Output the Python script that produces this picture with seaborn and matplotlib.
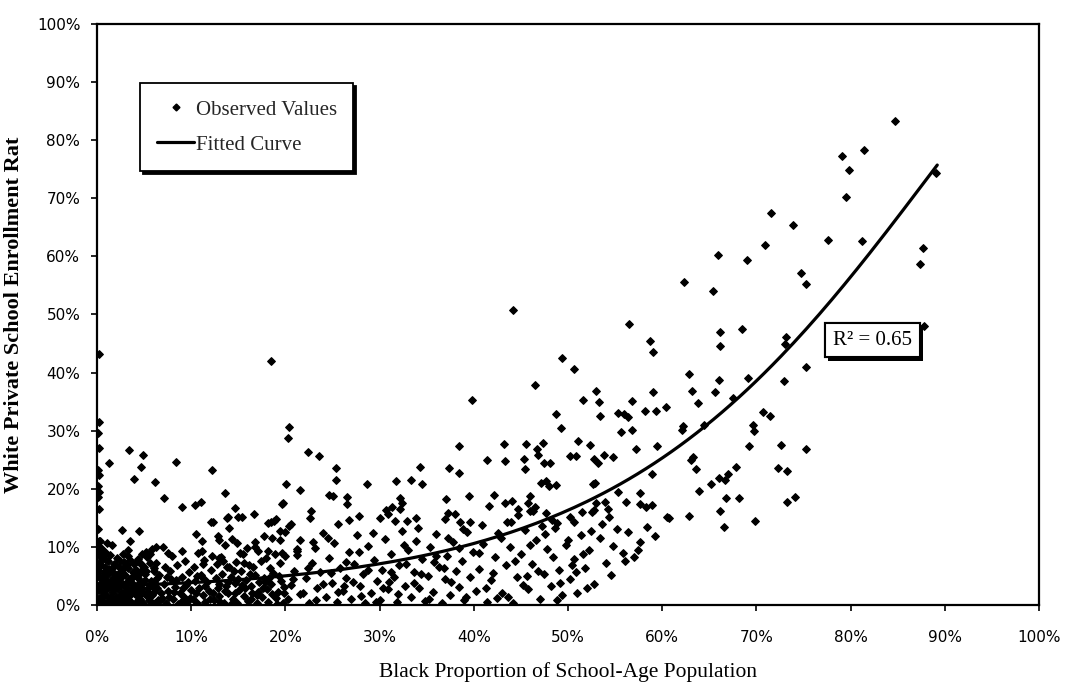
import matplotlib
matplotlib.use("Agg")
import matplotlib.pyplot as plt
import matplotlib.patheffects as pe
import numpy as np
import pandas as pd
import seaborn as sns
from matplotlib.ticker import PercentFormatter, MultipleLocator
from matplotlib.lines import Line2D

# ---------------- data: (black share %, white private enrolment %) ----------------
axis_pts = [(0.2, 43.2), (0.2, 31.5), (0.1, 29.6), (0.2, 27.0), (0.1, 23.2), (0.2, 22.4), (0.1, 20.4),
            (0.2, 19.5), (0.1, 18.6), (0.2, 16.5), (0.1, 13.0), (0.2, 11.0), (0.1, 10.0), (0.2, 9.0)]

upper_0_20 = [(1.3, 24.5), (3.4, 26.7), (4.85, 25.8), (4.7, 23.7), (3.9, 21.7), (6.2, 21.2), (7.1, 18.5),
              (8.4, 24.6), (9.0, 16.8), (10.4, 17.2), (11.0, 17.7), (12.2, 23.2), (13.6, 19.3), (14.7, 16.7),
              (13.9, 15.1), (15.0, 15.1), (15.4, 15.1), (16.7, 15.7), (12.3, 14.3), (18.5, 14.2), (19.0, 14.8),
              (19.7, 17.5), (20.1, 20.8), (20.3, 28.7), (20.4, 30.7), (18.5, 42.0),
              (2.7, 12.9), (4.5, 12.7), (1.6, 10.4), (3.5, 11.1), (3.3, 9.5), (9.0, 9.3), (10.5, 12.2),
              (11.1, 11.0), (11.1, 9.3), (11.3, 7.0), (13.8, 14.9), (12.1, 14.2), (14.0, 13.3), (12.8, 11.9),
              (13.0, 11.2), (14.3, 11.3), (13.6, 10.3), (14.9, 10.7), (15.2, 9.0), (15.9, 9.8), (16.8, 9.9),
              (17.1, 9.3), (16.8, 10.9), (17.7, 11.8), (18.2, 14.1), (18.8, 14.5), (16.6, 6.5), (19.6, 17.3),
              (19.4, 12.7), (20.0, 12.5), (20.4, 13.6), (18.6, 11.6), (19.4, 11.2), (18.1, 9.3), (18.9, 8.7),
              (20.0, 8.5), (21.2, 9.3), (12.2, 8.5), (12.9, 8.1), (13.4, 7.6), (14.0, 6.5), (14.5, 5.9),
              (15.6, 7.3), (5.8, 9.6), (6.3, 10.0), (5.2, 9.1), (7.0, 9.9), (7.5, 8.9), (4.8, 8.7),
              (4.4, 7.9), (0.3, 9.3)]

dense_0_6 = [(0.1, 0.3), (0.2, 1.2), (0.1, 2.5), (0.3, 3.6), (0.2, 4.8), (0.1, 6.0), (0.2, 7.2), (0.3, 8.4),
             (0.5, 0.8), (0.6, 2.0), (0.5, 3.1), (0.7, 4.3), (0.6, 5.5), (0.8, 6.6), (0.5, 7.9), (0.9, 9.2),
             (1.0, 0.2), (1.1, 1.5), (1.0, 2.7), (1.2, 3.9), (1.1, 5.1), (1.3, 6.2), (1.2, 7.5), (1.5, 0.9),
             (1.6, 2.2), (1.4, 3.3), (1.7, 4.6), (1.5, 5.8), (1.8, 7.0), (1.9, 0.3), (2.0, 1.6), (2.1, 2.9),
             (2.0, 4.0), (2.2, 5.3), (2.3, 6.5), (2.4, 0.8), (2.5, 2.3), (2.6, 3.5), (2.5, 4.8), (2.7, 6.0),
             (2.9, 7.4), (2.8, 1.2), (3.0, 0.2), (3.1, 2.6), (3.2, 3.9), (3.0, 5.1), (3.3, 6.4), (3.4, 1.5),
             (3.6, 0.6), (3.7, 2.9), (3.5, 4.4), (3.8, 5.6), (3.9, 7.0), (4.0, 1.9), (4.1, 0.3), (4.2, 3.3),
             (4.3, 4.7), (4.1, 6.1), (4.5, 2.4), (4.6, 1.0), (4.7, 3.8), (4.5, 5.3), (4.8, 6.8), (4.9, 0.4),
             (5.0, 2.0), (5.1, 4.3), (0.4, 9.8), (1.4, 8.6), (2.1, 8.1), (3.3, 8.4), (0.3, 11.0), (4.4, 7.6),
             (5.2, 5.8), (5.4, 3.0), (5.5, 0.9), (5.6, 7.2),
             (0.3, 0.6), (0.7, 1.8), (1.1, 3.0), (1.5, 4.2), (1.9, 5.4), (2.3, 0.7), (2.7, 1.9), (3.1, 3.1),
             (3.5, 4.3), (3.9, 5.5), (4.3, 0.8), (4.7, 2.0), (0.4, 6.8), (0.8, 7.9), (1.3, 5.9), (1.7, 3.4),
             (2.2, 1.0), (2.6, 4.9), (3.0, 6.7), (3.4, 2.0), (3.8, 3.6), (4.2, 5.8), (4.6, 4.0), (5.0, 6.5),
             (0.2, 9.0), (0.6, 4.6), (1.0, 5.9), (1.4, 1.2), (1.8, 2.8), (2.4, 7.6), (2.8, 3.7), (3.2, 6.9),
             (3.6, 2.1), (4.0, 5.2), (4.4, 1.5), (4.8, 3.0), (5.3, 1.5), (5.7, 4.2), (6.1, 2.3), (6.5, 0.8),
             (0.5, 2.7), (1.2, 0.5), (1.9, 6.9), (2.6, 0.3), (3.3, 0.9), (4.0, 3.0), (4.7, 5.9), (5.4, 2.2),
             (6.0, 6.4), (0.9, 3.6), (1.6, 6.4), (2.3, 4.4), (3.0, 1.7), (3.7, 4.9), (4.4, 2.6), (5.1, 5.3),
             (5.8, 0.3), (6.4, 4.6), (0.7, 8.6), (2.8, 8.8), (3.5, 7.7), (4.6, 7.3), (5.3, 8.2), (1.1, 10.6)]

low_5_20 = [(5.8, 1.8), (6.0, 4.0), (6.2, 0.4), (6.4, 2.9), (6.6, 5.2), (6.9, 1.2), (7.1, 3.6), (7.3, 0.3),
            (7.5, 2.4), (7.7, 5.8), (7.9, 4.4), (8.1, 1.0), (8.3, 3.1), (8.6, 0.2), (8.8, 2.0), (9.0, 4.8),
            (9.2, 1.3), (9.4, 3.5), (9.6, 0.5), (9.8, 5.6), (10.0, 2.6), (10.2, 1.0), (10.4, 4.1), (10.6, 0.3),
            (10.8, 3.0), (11.0, 5.2), (11.2, 1.8), (11.5, 0.5), (11.7, 3.9), (11.9, 2.4), (12.1, 6.0),
            (12.4, 0.9), (12.6, 4.6), (12.8, 2.9), (13.0, 1.5), (13.3, 5.4), (13.5, 0.3), (13.7, 3.3),
            (13.9, 2.0), (14.2, 4.9), (14.4, 1.1), (14.6, 3.8), (14.9, 0.4), (15.1, 2.6), (15.3, 5.9),
            (15.6, 1.6), (15.8, 4.3), (16.0, 0.7), (16.3, 3.2), (16.5, 2.1), (16.8, 5.1), (17.0, 0.3),
            (17.2, 3.9), (17.5, 1.4), (17.7, 4.7), (18.0, 2.7), (18.2, 0.6), (18.5, 3.6), (18.7, 5.5),
            (19.0, 1.2), (19.2, 2.3), (19.5, 4.2), (19.7, 0.4), (19.9, 3.1), (6.3, 7.2), (7.2, 6.5),
            (8.5, 6.9), (9.3, 7.5), (10.3, 6.6), (11.4, 7.8), (12.7, 7.1), (13.8, 6.5), (14.8, 7.4),
            (16.1, 6.8), (17.4, 7.6), (18.4, 6.4), (19.4, 7.2), (5.6, 8.7), (8.0, 8.4), (10.7, 8.9),
            (13.2, 8.3), (15.5, 8.7), (17.9, 8.1), (19.6, 9.0),
            (5.9, 3.1), (6.7, 0.9), (7.4, 4.9), (8.2, 2.2), (8.9, 0.6), (9.7, 3.9), (10.5, 2.0), (11.3, 4.7),
            (12.0, 1.0), (12.9, 3.7), (13.6, 2.4), (14.3, 0.3), (15.0, 4.4), (15.7, 2.9), (16.4, 1.1),
            (17.1, 2.2), (17.8, 4.0), (18.6, 1.9), (19.3, 5.0), (6.1, 5.9), (6.8, 2.1), (7.6, 1.3),
            (8.4, 4.3), (9.1, 2.9), (9.9, 1.2), (10.6, 5.0), (11.5, 3.3), (12.3, 2.1), (13.1, 0.5),
            (13.9, 4.0), (14.7, 2.0), (15.4, 3.5), (16.2, 5.4), (17.0, 1.7), (17.6, 2.9), (18.3, 4.6),
            (19.1, 0.2), (19.8, 2.0)]

upper_20_40 = [(22.4, 26.4), (23.6, 25.6), (25.4, 23.6), (25.4, 21.6), (21.5, 19.8), (24.6, 18.9),
               (25.0, 18.8), (26.5, 18.6), (26.5, 17.4), (28.7, 20.9), (31.7, 21.3), (33.3, 21.6),
               (34.5, 20.9), (34.3, 23.8), (32.2, 18.4), (32.4, 17.5), (32.2, 16.6), (31.3, 16.9),
               (30.7, 16.4), (30.9, 15.6), (30.0, 15.0), (31.6, 14.5), (32.9, 14.5), (33.9, 14.9),
               (27.8, 15.3), (26.7, 14.6), (22.7, 16.1), (22.6, 14.9), (20.6, 13.9), (25.6, 13.9),
               (37.4, 23.5), (38.4, 22.8), (38.4, 27.4), (39.8, 35.3), (39.5, 18.8), (37.1, 18.2),
               (37.3, 15.9), (38.0, 15.7), (36.9, 14.8), (38.5, 14.3), (39.6, 14.2)]

low_20_40 = [(20.3, 1.0), (20.6, 3.4), (20.9, 5.9), (21.2, 8.6), (21.5, 11.2), (21.9, 2.1), (22.2, 4.7),
             (22.5, 0.4), (22.8, 7.3), (23.1, 9.8), (23.4, 2.9), (23.7, 5.6), (24.0, 12.4), (24.3, 1.3),
             (24.6, 8.1), (24.9, 3.8), (25.2, 10.6), (25.5, 0.6), (25.8, 6.4), (26.1, 2.4), (26.4, 4.6),
             (26.7, 9.2), (27.0, 1.1), (27.3, 7.0), (27.6, 12.0), (27.9, 3.2), (28.2, 5.3), (28.5, 0.3),
             (28.8, 10.1), (29.1, 2.0), (29.4, 7.8), (29.7, 4.1), (30.0, 0.9), (30.3, 6.1), (30.6, 11.4),
             (30.9, 2.7), (31.2, 8.8), (31.5, 4.9), (31.8, 0.5), (32.1, 6.9), (32.4, 12.8), (32.7, 3.3),
             (33.0, 9.5), (33.3, 1.4), (33.6, 5.7), (33.9, 11.0), (34.2, 3.0), (34.5, 7.9), (34.8, 0.7),
             (35.1, 5.0), (35.4, 9.9), (35.7, 2.3), (36.0, 12.2), (36.3, 6.6), (36.6, 0.4), (36.9, 4.4),
             (37.2, 8.5), (37.5, 1.8), (37.8, 10.8), (38.1, 5.9), (38.4, 3.1), (38.7, 7.5), (39.0, 0.9),
             (39.3, 12.6), (39.6, 4.8), (39.9, 9.1),
             (20.8, 4.5), (21.6, 1.9), (22.4, 6.4), (23.2, 0.8), (24.0, 3.6), (24.8, 5.5), (25.6, 2.2),
             (26.4, 7.4), (27.2, 4.0), (28.0, 1.6), (28.8, 6.0), (29.6, 0.6), (30.4, 3.0), (31.2, 5.6),
             (32.0, 1.9), (32.8, 7.0), (33.6, 3.8), (34.4, 5.4), (35.2, 1.1), (36.0, 8.4), (36.8, 6.3),
             (37.6, 3.9), (38.4, 9.8), (39.2, 1.4), (21.2, 9.6), (22.9, 10.9), (24.5, 11.5), (26.2, 3.3),
             (27.8, 9.2), (29.3, 12.4), (31.0, 4.0), (32.6, 10.3), (34.1, 13.3), (35.8, 7.4), (37.3, 11.6),
             (38.9, 13.0)]

upper_40_60 = [(44.2, 50.7), (56.5, 48.4), (58.7, 45.5), (59.0, 43.5), (49.4, 42.5), (50.6, 40.7),
               (46.5, 37.9), (53.0, 36.8), (51.6, 35.3), (53.3, 34.9), (53.4, 32.6), (56.8, 35.1),
               (59.0, 36.6), (58.2, 33.4), (59.3, 33.4), (60.4, 34.0), (55.3, 33.0), (55.9, 32.9),
               (56.4, 32.3), (56.8, 30.2), (55.6, 29.7), (48.7, 32.9), (49.3, 30.5), (51.1, 28.3),
               (52.3, 27.5), (53.8, 25.9), (54.8, 25.4), (50.2, 25.6), (50.9, 25.6), (52.8, 25.1),
               (53.2, 24.5), (57.2, 26.8), (59.4, 27.3), (58.9, 22.5), (43.2, 27.7), (45.5, 27.7),
               (47.3, 27.8), (46.7, 26.8), (46.8, 25.9), (41.4, 25.0), (43.3, 24.8), (45.3, 25.1),
               (45.4, 23.4), (47.5, 24.4), (48.1, 24.4), (47.1, 21.0), (47.7, 21.3), (48.0, 20.4),
               (48.7, 20.6), (52.7, 20.8), (52.9, 21.0), (55.3, 19.4), (57.6, 19.3), (56.2, 17.7),
               (57.6, 17.3), (58.3, 16.9), (58.9, 17.2), (60.5, 15.2), (54.4, 15.2), (53.0, 17.5),
               (53.9, 17.8), (54.2, 16.6), (51.5, 16.0), (52.5, 16.0), (52.8, 16.4), (50.2, 15.2),
               (50.6, 14.3), (48.3, 14.6), (48.8, 14.1), (42.1, 18.9), (41.6, 17.0), (43.3, 17.6),
               (44.1, 17.9), (44.7, 16.6), (44.7, 15.5), (45.8, 17.6), (46.0, 18.8), (46.5, 16.8),
               (46.3, 16.1), (46.0, 16.2), (47.7, 15.8), (43.5, 14.2)]

low_40_60 = [(40.2, 2.4), (40.6, 6.2), (41.0, 10.5), (41.4, 0.6), (41.8, 4.3), (42.2, 8.2), (42.6, 12.4),
             (43.0, 2.0), (43.4, 6.8), (43.8, 10.0), (44.2, 0.3), (44.6, 4.9), (45.0, 8.8), (45.4, 12.9),
             (45.8, 2.8), (46.2, 7.1), (46.6, 11.2), (47.0, 1.1), (47.4, 5.4), (47.8, 9.6), (48.2, 3.3),
             (48.6, 13.2), (49.0, 6.1), (49.4, 1.8), (49.8, 10.3), (50.2, 4.5), (50.6, 8.0), (51.0, 2.1),
             (51.4, 12.0), (51.8, 6.4), (52.2, 9.4), (52.8, 3.6), (53.4, 11.6), (54.0, 7.2), (54.6, 5.1),
             (55.2, 13.0), (55.8, 9.0), (56.4, 12.5), (57.0, 8.2), (57.6, 10.9), (58.4, 13.5), (59.2, 11.8),
             (40.5, 9.0), (41.3, 3.0), (42.0, 5.5), (42.9, 11.5), (43.6, 1.3), (44.4, 7.6), (45.2, 3.5),
             (46.0, 10.4), (46.8, 5.9), (47.6, 12.3), (48.4, 8.3), (49.2, 3.8), (50.0, 11.2), (50.8, 5.6),
             (51.6, 8.8), (52.4, 12.8), (53.6, 14.0), (54.8, 10.2), (56.0, 7.6), (57.4, 9.5), (40.9, 13.8),
             (42.5, 1.2), (44.0, 14.3), (45.6, 5.0), (47.2, 13.6), (48.8, 0.9), (50.4, 6.9), (52.0, 2.9)]

high_60_90 = [(79.1, 77.2), (79.8, 74.9), (79.5, 70.3), (71.5, 67.4), (73.9, 65.4), (70.9, 62.0),
              (77.6, 62.9), (65.9, 60.2), (69.0, 59.3), (62.3, 55.6), (65.4, 54.1), (74.7, 57.1),
              (75.3, 55.2), (66.1, 47.0), (66.1, 44.6), (68.5, 47.5), (73.1, 46.2), (73.0, 45.0),
              (75.3, 41.0), (72.9, 38.6), (62.8, 39.8), (66.0, 38.8), (69.1, 39.0), (63.2, 36.9),
              (65.6, 36.6), (67.5, 35.7), (63.8, 34.7), (62.2, 30.8), (62.1, 30.1), (64.4, 31.0),
              (70.7, 33.2), (71.4, 32.5), (69.6, 31.0), (69.7, 29.9), (69.2, 27.4), (72.6, 27.6),
              (75.3, 26.9), (63.3, 25.5), (63.1, 25.0), (63.6, 23.4), (72.3, 23.6), (73.2, 23.1),
              (67.8, 23.7), (66.0, 21.8), (66.7, 21.5), (67.0, 22.5), (65.2, 20.8), (63.9, 19.7),
              (66.8, 18.5), (68.2, 18.5), (73.3, 17.8), (74.1, 18.6), (60.7, 15.0), (62.8, 15.3),
              (66.1, 16.2), (69.8, 14.5), (66.6, 13.5),
              (84.7, 83.3), (81.4, 78.3), (81.2, 62.6), (89.1, 74.3), (87.7, 61.4), (87.4, 58.7),
              (87.8, 48.1)]

# fitted curve (percent units)
curve_x = [0.0, 10.0, 20.0, 30.0, 40.0, 45.6, 53.7, 60.8, 69.6, 76.8, 83.1, 89.2]
curve_y = [3.2, 4.0, 5.1, 6.9, 10.0, 13.8, 19.8, 26.3, 38.2, 49.6, 62.3, 76.2]

legend_labels = ["Observed Values", "Fitted Curve"]
r2_text = "R\u00b2 = 0.65"
x_title = "Black Proportion of School-Age Population"
y_title = "White Private School Enrollment Rat"

groups = [axis_pts, upper_0_20, dense_0_6, low_5_20, upper_20_40, low_20_40,
          upper_40_60, low_40_60, high_60_90]
pts = [p for g in groups for p in g]
df = pd.DataFrame(pts, columns=["x", "y"]) / 100.0

# smooth monotone curve through the sampled points (cubic in log space)
coef = np.polyfit(np.array(curve_x) / 100, np.log(np.array(curve_y) / 100), 3)
cx = np.linspace(0, max(curve_x) / 100, 200)
curve_df = pd.DataFrame({"x": cx, "y": np.exp(np.polyval(coef, cx))})

# ---------------- figure ----------------
sns.set_theme(style="white")
plt.rcParams["font.family"] = ["DejaVu Sans"]
serif = ["Liberation Serif", "DejaVu Serif"]

fig = plt.figure(figsize=(10.66, 6.82), dpi=100)
ax = fig.add_axes([97 / 1066, 1 - 605 / 682, 942 / 1066, 581 / 682])

sns.scatterplot(data=df, x="x", y="y", ax=ax, marker="D", s=15,
                color="black", edgecolor="black", linewidth=0.9, zorder=3, legend=False)
sns.lineplot(data=curve_df, x="x", y="y", ax=ax, color="black", linewidth=2.3, zorder=4,
             legend=False)

ax.set_xlim(0, 1)
ax.set_ylim(0, 1)
ax.xaxis.set_major_locator(MultipleLocator(0.1))
ax.yaxis.set_major_locator(MultipleLocator(0.1))
ax.xaxis.set_major_formatter(PercentFormatter(1.0, decimals=0))
ax.yaxis.set_major_formatter(PercentFormatter(1.0, decimals=0))
for s in ax.spines.values():
    s.set_color("black")
    s.set_linewidth(1.6)
ax.tick_params(axis="both", direction="out", length=4, width=1.2, color="black",
               labelsize=11, labelcolor="black")
ax.tick_params(axis="x", pad=14, bottom=True)
ax.tick_params(axis="y", pad=8, left=True)

ax.set_xlabel(x_title, family=serif, fontsize=15.5, color="black", labelpad=12)
ax.set_ylabel(y_title, family=serif, fontsize=16, fontweight="bold", color="black", labelpad=9)

handles = [
    Line2D([], [], marker="D", color="black", linestyle="none", markersize=3.5),
    Line2D([], [], color="black", linewidth=2.3),
]
leg = ax.legend(handles, legend_labels, loc="upper left",
                bbox_to_anchor=(0.046, 0.898), frameon=True, fancybox=False,
                shadow={"color": "black", "alpha": 1.0}, edgecolor="black",
                prop={"family": serif, "size": 15}, handlelength=1.8, handletextpad=0.05,
                borderpad=0.8, labelspacing=0.75, borderaxespad=0)
leg.get_frame().set_linewidth(1.3)

t = ax.text(0.823, 0.456, r2_text, transform=ax.transAxes, ha="center", va="center",
            family=serif, fontsize=15, color="black", zorder=6,
            bbox=dict(boxstyle="square,pad=0.38", facecolor="white", edgecolor="black",
                      linewidth=1.5))
t.get_bbox_patch().set_path_effects([
    pe.withSimplePatchShadow(offset=(2.2, -2.2), shadow_rgbFace="black", alpha=1.0),
    pe.Normal()])

fig.savefig("out.png", dpi=100)
